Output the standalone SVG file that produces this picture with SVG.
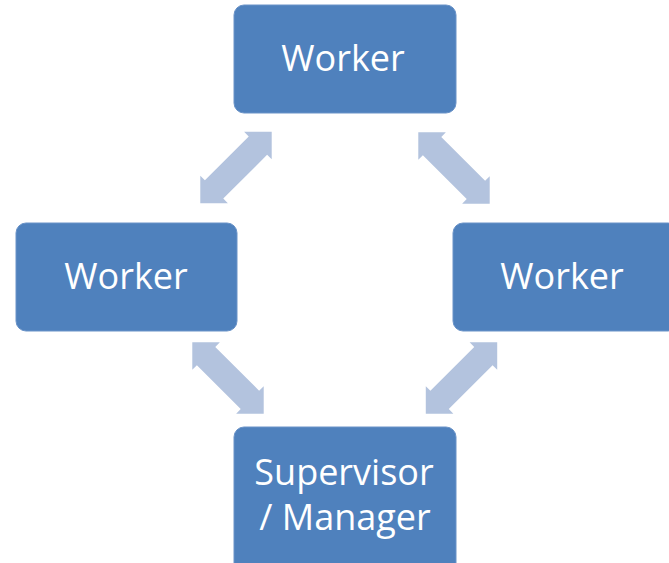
<svg xmlns="http://www.w3.org/2000/svg" width="669" height="563" viewBox="0 0 669 563">
<defs>
<style>
.box{fill:#4F81BD;stroke:#6A93C8;stroke-width:1}
.lbl{fill:#FFFFFF;font-family:"Open Sans","Noto Sans","Liberation Sans",sans-serif;font-size:36px;text-anchor:middle}
.arr{fill:#B3C3DE}
</style>
<polygon id="dbl" points="-50.5,0 -31,-19.5 -31,-13 31,-13 31,-19.5 50.5,0 31,19.5 31,13 -31,13 -31,19.5"/>
</defs>
<rect width="669" height="563" fill="#FFFFFF"/>
<g id="connectors" class="arr">
<use href="#dbl" transform="translate(236,167.5) rotate(-45)"/>
<use href="#dbl" transform="translate(454,168) rotate(45)"/>
<use href="#dbl" transform="translate(228,378) rotate(45)"/>
<use href="#dbl" transform="translate(461.5,378) rotate(-45)"/>
</g>
<g id="node-top">
<rect class="box" x="234" y="5" width="222" height="108" rx="10"/>
<text class="lbl" x="343" y="71">Worker</text>
</g>
<g id="node-left">
<rect class="box" x="16" y="223" width="221" height="108" rx="10"/>
<text class="lbl" x="126" y="289">Worker</text>
</g>
<g id="node-right">
<rect class="box" x="453" y="223" width="225" height="108" rx="10"/>
<text class="lbl" x="562" y="289">Worker</text>
</g>
<g id="node-bottom">
<rect class="box" x="234" y="427" width="222" height="150" rx="10"/>
<text class="lbl" x="344" y="485">Supervisor</text>
<text class="lbl" x="345" y="530">/ Manager</text>
</g>
</svg>
